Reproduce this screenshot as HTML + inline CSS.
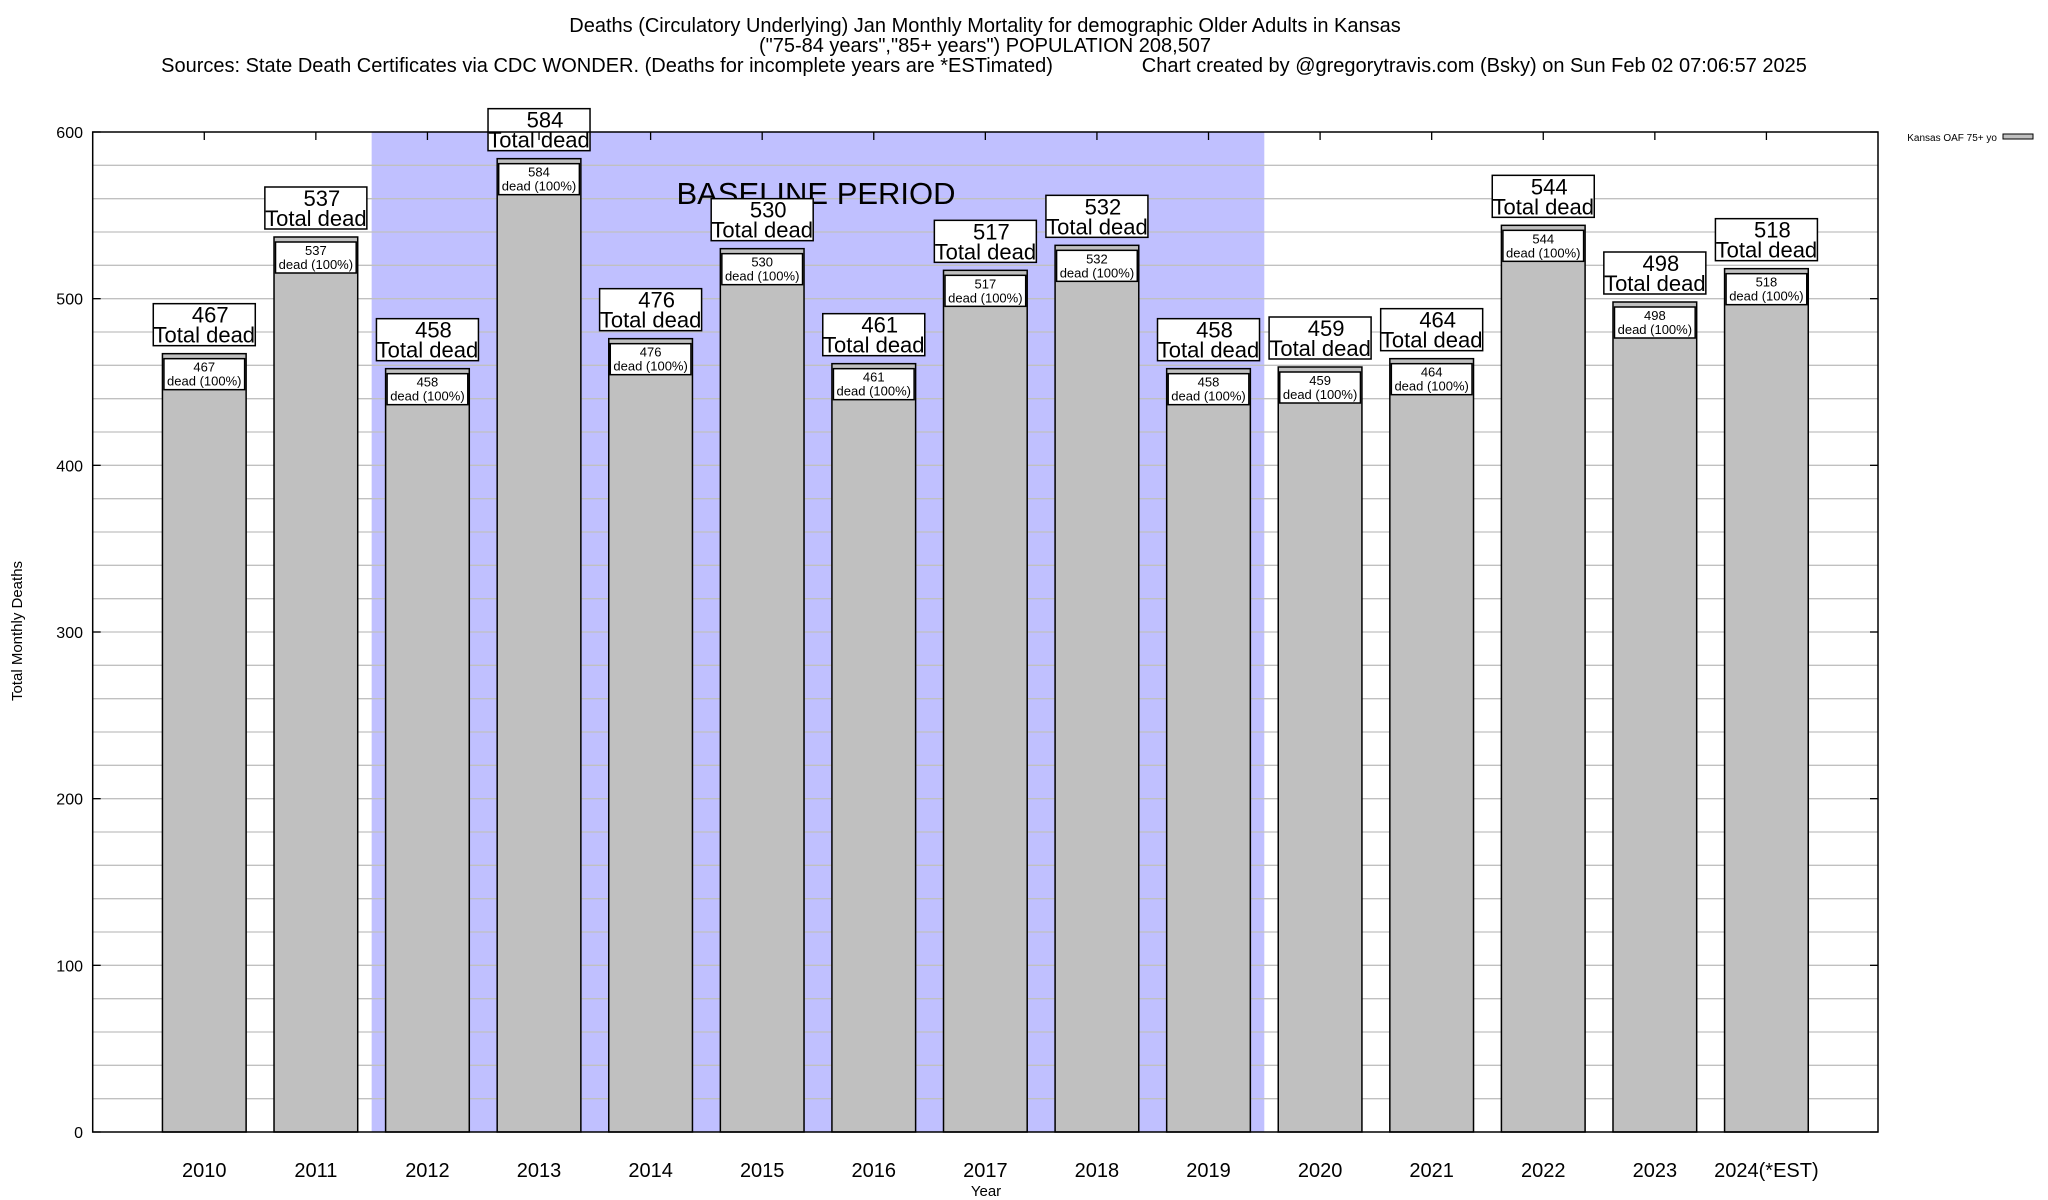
<!DOCTYPE html>
<html><head><meta charset="utf-8"><style>
html,body{margin:0;padding:0;background:#fff;}
svg{display:block;font-family:"Liberation Sans",Arial,sans-serif;}
</style></head><body>
<svg id="chart" width="2048" height="1200" viewBox="0 0 2048 1200" xmlns="http://www.w3.org/2000/svg">
<g font-size="20" text-anchor="middle">
<text x="985" y="32">Deaths (Circulatory Underlying) Jan Monthly Mortality for demographic Older Adults in Kansas</text>
<text x="985" y="52">("75-84 years","85+ years") POPULATION 208,507</text>
<text x="984" y="72" xml:space="preserve">Sources: State Death Certificates via CDC WONDER. (Deaths for incomplete years are *ESTimated)                Chart created by @gregorytravis.com (Bsky) on Sun Feb 02 07:06:57 2025</text>
</g>
<g id="plot"></g>
</svg>
<script>
const categories=["2010","2011","2012","2013","2014","2015","2016","2017","2018","2019","2020","2021","2022","2023","2024(*EST)"];
const deaths=[467,537,458,584,476,530,461,517,532,458,459,464,544,498,518];
const yTicks=[0,100,200,300,400,500,600];
const baselineStart=1.5, baselineEnd=9.5;
const L=92.7,R=1878,T=132,B=1132,yMax=600;
const xS=i=>L+(i+1)*(R-L)/16;
const yS=v=>B-v*(B-T)/yMax;
const unit=(R-L)/16, bw=unit*0.75;
const NS="http://www.w3.org/2000/svg";
const g=document.getElementById('plot');
function mk(tag,attrs,parent){const e=document.createElementNS(NS,tag);for(const k in attrs)e.setAttribute(k,attrs[k]);(parent||g).appendChild(e);return e;}
let sh=mk('rect',{x:xS(baselineStart),y:T,width:xS(baselineEnd)-xS(baselineStart),height:B-T,fill:'#c0c0ff'});


for(let v=20;v<yMax;v+=20){
 let l=mk('line',{x1:L,x2:R,y1:yS(v),y2:yS(v),stroke:'#c0c0c0','stroke-width':1.3});
 
 
}
let bt=mk('text',{x:816,y:204,'font-size':31,'text-anchor':'middle'});
bt.textContent='BASELINE PERIOD';


yTicks.forEach(v=>{
 let t=mk('text',{x:83,y:yS(v)+6,'font-size':16,'text-anchor':'end'});
 t.textContent=v;
 
 
 mk('line',{x1:L,x2:L+8,y1:yS(v),y2:yS(v),stroke:'#000','stroke-width':1.3});
 mk('line',{x1:R,x2:R-8,y1:yS(v),y2:yS(v),stroke:'#000','stroke-width':1.3});
});
categories.forEach((c,i)=>{
 const cx=xS(i), v=deaths[i], y=yS(v);
 let b=mk('rect',{x:cx-bw/2,y:y,width:bw,height:B-y,fill:'#c0c0c0',stroke:'#000','stroke-width':1.5});
 
 
 let ib=mk('rect',{x:cx-bw/2+1.5,y:y+5,width:bw-3,height:31,fill:'#fff',stroke:'#000','stroke-width':1.5});
 
 
 let t1=mk('text',{x:cx,y:y+18,'font-size':13,'text-anchor':'middle'});t1.textContent=v;
 
 
 let t2=mk('text',{x:cx,y:y+32,'font-size':13,'text-anchor':'middle'});t2.textContent='dead (100%)';
 
 
 let ob=mk('rect',{x:cx-51,y:y-50,width:102,height:42,fill:'#fff',stroke:'#000','stroke-width':1.5});
 
 
 let t3=mk('text',{x:cx+6,y:y-31,'font-size':22,'text-anchor':'middle'});t3.textContent=v;
 
 
 let t4=mk('text',{x:cx,y:y-11,'font-size':22,'text-anchor':'middle'});t4.textContent='Total dead';
 
 
 let xl=mk('text',{x:cx,y:1177,'font-size':20,'text-anchor':'middle'});xl.textContent=c;
 
 
 mk('line',{x1:cx,x2:cx,y1:T,y2:T+8,stroke:'#000','stroke-width':1.3});
});
let fr=mk('rect',{x:L,y:T,width:R-L,height:B-T,fill:'none',stroke:'#000','stroke-width':1.5});


let xt=mk('text',{x:986,y:1196,'font-size':15,'text-anchor':'middle'});xt.textContent='Year';


let yt=mk('text',{x:22,y:631,'font-size':15,'text-anchor':'middle',transform:'rotate(-90 22 631)'});yt.textContent='Total Monthly Deaths';


let lt=mk('text',{x:1997,y:141,'font-size':10,'text-anchor':'end'});lt.textContent='Kansas OAF 75+ yo';


let ls=mk('rect',{x:2003,y:134,width:30,height:5,fill:'#c0c0c0',stroke:'#000','stroke-width':1});


</script>
</body></html>
